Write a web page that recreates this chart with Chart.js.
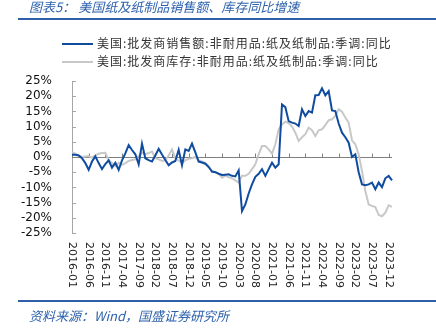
<!DOCTYPE html>
<html lang="zh">
<head>
<meta charset="UTF-8">
<title>美国纸及纸制品销售额、库存同比增速</title>
<script src="https://cdn.jsdelivr.net/npm/chart.js@4.4.1/dist/chart.umd.min.js"></script>
<style>
  body { margin: 0; width: 436px; height: 331px; background: #fff; position: relative; overflow: hidden;
         font-family: "Noto Sans CJK SC", sans-serif; }
  .wrap { position: absolute; left: 0; top: 0; width: 436px; height: 331px; }
  .title { position: absolute; left: 29px; top: -3px; font-size: 13px; font-style: italic; color: #2f62ad; white-space: nowrap; }
  .rule { position: absolute; left: 18px; right: 0; height: 2px; background: #2f5fa8; }
  .legend { position: absolute; left: 62px; font-size: 12px; letter-spacing: 1px; color: #333; white-space: nowrap; }
  .legend i { display: inline-block; width: 31px; height: 2px; vertical-align: middle; margin-right: 4px; position: relative; top: -1px; }
  .source { position: absolute; left: 29px; top: 306px; font-size: 13px; font-style: italic; color: #2f62ad; white-space: nowrap; }
</style>
</head>
<body>
<div class="wrap"><canvas id="chart"></canvas></div>
<div class="title">图表5：&nbsp;美国纸及纸制品销售额、库存同比增速</div>
<div class="rule" style="top:18px"></div>
<div class="legend" style="top:34px"><i style="background:#0f4c9f"></i>美国:批发商销售额:非耐用品:纸及纸制品:季调:同比</div>
<div class="legend" style="top:52px"><i style="background:#c8c8c8"></i>美国:批发商库存:非耐用品:纸及纸制品:季调:同比</div>
<div class="rule" style="top:300px"></div>
<div class="source">资料来源：Wind，国盛证券研究所</div>

<script>
  // 月份 2016-01 ... 2024-01
  const months = [];
  for (let k = 0; k < 97; k++) {
    const yr = 2016 + Math.floor(k / 12), mo = k % 12 + 1;
    months.push(yr + "-" + String(mo).padStart(2, "0"));
  }
  const labelStep = 5;
  const yTicks = [-25, -20, -15, -10, -5, 0, 5, 10, 15, 20, 25];

  const salesYoY = [
    0.7, 0.7, 0.5, -0.4, -2.0, -4.2, -1.5, 0.2, -2.0, -4.0, -2.3, -1.1,
    -3.5, -1.9, -4.2, -1.1, 1.2, 3.9, 2.3, 0.9, -2.4, 4.4, -0.4, -1.0,
    -1.5, 0.5, 2.7, 0.8, -1.0, -2.7, -1.8, -1.3, 2.4, -2.7, 2.5, 2.0,
    4.4, 1.5, -1.5, -1.8, -2.2, -3.3, -4.8, -5.0, -5.5, -5.9, -5.8, -5.7,
    -6.2, -6.4, -4.4, -17.8, -15.6, -12.0, -9.0, -6.5, -5.5, -4.0, -6.2, -4.0,
    -1.9, -3.5, -2.4, 17.3, 16.4, 11.8, 11.3, 11.0, 10.2, 15.7, 13.5, 15.1,
    14.6, 20.3, 20.4, 22.6, 20.3, 21.7, 15.3, 15.1, 11.0, 8.0, 6.5, 4.7,
    0.0, 0.9, -5.0, -9.0, -9.3, -9.0, -8.4, -10.6, -8.4, -9.9, -7.0, -6.2,
    -7.7
  ];
  const inventoryYoY = [
    1.6, 1.1, 0.5, 0.0, 0.2, 0.3, -0.2, 0.5, 1.1, 1.3, 1.4, -1.1,
    -2.0, -3.0, -1.9, -2.6, -2.0, -1.3, -1.0, -0.8, 0.3, 1.4, 0.9, 1.3,
    1.8, -0.4, -0.8, -1.3, -1.1, 0.5, 2.5, -0.4, -1.2, -1.9, -1.1, -0.6,
    -0.4, 0.0, -1.1, -1.5, -1.9, -3.0, -4.8, -5.0, -5.5, -6.8, -6.2, -6.6,
    -7.0, -7.7, -8.4, -6.2, -6.2, -5.5, -4.0, -2.4, 0.9, 3.6, 3.6, 2.5,
    1.1, 4.2, 9.1, 10.7, 11.6, 11.2, 10.0, 8.0, 5.3, 6.5, 7.5, 9.6,
    8.8, 6.9, 8.8, 9.1, 10.5, 12.1, 12.4, 13.5, 15.7, 14.9, 13.0, 11.3,
    5.5, 4.2, 0.9, -4.6, -11.2, -15.6, -16.1, -16.5, -19.1, -19.5, -18.3, -15.9,
    -16.4
  ];

  // 坐标轴：内侧刻度、零轴线、竖排月份标签
  const axisPlugin = {
    id: 'axisPlugin',
    beforeDatasetsDraw(chart) {
      const { ctx, chartArea: a, scales: { x, y } } = chart;
      const y0 = Math.round(y.getPixelForValue(0)) + 0.5;
      ctx.save();
      ctx.lineWidth = 1;
      ctx.strokeStyle = '#a6a6a6';
      ctx.beginPath();
      ctx.moveTo(a.left + 0.5, a.top);
      ctx.lineTo(a.left + 0.5, a.bottom);
      yTicks.forEach(v => {
        const py = Math.round(y.getPixelForValue(v)) + 0.5;
        ctx.moveTo(a.left, py);
        ctx.lineTo(a.left + 4, py);
      });
      ctx.stroke();

      ctx.strokeStyle = '#7f7f7f';
      ctx.beginPath();
      ctx.moveTo(a.left, y0);
      ctx.lineTo(a.right, y0);
      months.forEach((m, i) => {
        if (i % labelStep) return;
        const px = Math.round(x.getPixelForValue(i)) + 0.5;
        ctx.moveTo(px, y0);
        ctx.lineTo(px, y0 - 4);
      });
      ctx.stroke();

      ctx.fillStyle = '#222';
      ctx.font = '11px "DejaVu Sans"';
      ctx.textAlign = 'left';
      ctx.textBaseline = 'middle';
      months.forEach((m, i) => {
        if (i % labelStep) return;
        ctx.save();
        ctx.translate(x.getPixelForValue(i), 242);
        ctx.rotate(Math.PI / 2);
        ctx.fillText(m, 0, 0);
        ctx.restore();
      });
      ctx.restore();
    }
  };

  new Chart(document.getElementById("chart"), {
    type: 'line',
    data: {
      labels: months,
      datasets: [
        {
          label: "美国:批发商销售额:非耐用品:纸及纸制品:季调:同比",
          data: salesYoY,
          borderColor: "#0f4c9f",
          borderWidth: 2,
          pointRadius: 0,
          tension: 0
        },
        {
          label: "美国:批发商库存:非耐用品:纸及纸制品:季调:同比",
          data: inventoryYoY,
          borderColor: "#c8c8c8",
          borderWidth: 2,
          pointRadius: 0,
          tension: 0
        }
      ]
    },
    options: {
      responsive: true,
      maintainAspectRatio: false,
      animation: false,
      layout: { padding: { top: 81, right: 44, bottom: 98, left: 0 } },
      plugins: { legend: { display: false }, tooltip: { enabled: false } },
      scales: {
        x: { type: 'category', display: false, offset: false },
        y: {
          min: yTicks[0], max: yTicks[yTicks.length - 1],
          afterFit(scale) { scale.width = 72; },
          grid: { display: false },
          border: { display: false },
          ticks: {
            stepSize: 5,
            autoSkip: false,
            padding: 12,
            color: '#111',
            font: { family: 'DejaVu Sans', size: 12 },
            callback: v => v + '%'
          }
        }
      }
    },
    plugins: [axisPlugin]
  });
</script>
</body>
</html>
